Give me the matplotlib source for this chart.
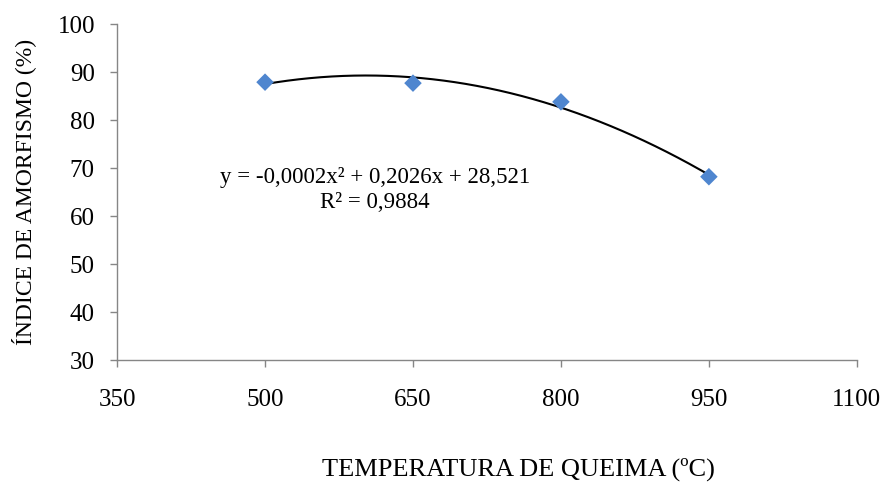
import numpy as np
import matplotlib.pyplot as plt

temperatura = [500, 650, 800, 950]
amorfismo = [87.9, 87.7, 83.8, 68.2]
x_ticks = [350, 500, 650, 800, 950, 1100]
y_ticks = [30, 40, 50, 60, 70, 80, 90, 100]
equacao = "y = -0,0002x\u00b2 + 0,2026x + 28,521"
r2_texto = "R\u00b2 = 0,9884"

plt.rcParams['font.family'] = ['Liberation Serif', 'DejaVu Serif']

fig = plt.figure(figsize=(8.87, 4.82), dpi=100)
ax = fig.add_axes([0.132, 0.253, 0.834, 0.697])

# linha de tendencia polinomial (ordem 2)
coef = np.polyfit(temperatura, amorfismo, 2)
xs = np.linspace(min(temperatura), max(temperatura), 200)
ax.plot(xs, np.polyval(coef, xs), color='black', linewidth=1.5, zorder=2)

ax.scatter(temperatura, amorfismo, marker='D', s=80, color='#4f86cf',
           edgecolors='none', zorder=3)

ax.set_xlim(350, 1100)
ax.set_ylim(30, 100)
ax.set_xticks(x_ticks)
ax.set_yticks(y_ticks)

for s in ['top', 'right']:
    ax.spines[s].set_visible(False)
for s in ['left', 'bottom']:
    ax.spines[s].set_color('#868686')
    ax.spines[s].set_linewidth(1)
ax.tick_params(direction='out', length=5, width=1, color='#868686',
               labelsize=18)
ax.tick_params(axis='y', pad=11)
ax.tick_params(axis='x', pad=16)

ax.set_xlabel('TEMPERATURA DE QUEIMA (ºC)', fontsize=19)
ax.xaxis.set_label_coords((518 - 117) / 740, -0.29)
ax.set_ylabel('ÍNDICE DE AMORFISMO (%)', fontsize=17, labelpad=15)

ax.text(375, 482 - 178, equacao, transform=None, fontsize=16.5,
        ha='center', va='center')
ax.text(375, 482 - 202, r2_texto, transform=None, fontsize=16.5,
        ha='center', va='center')

fig.savefig('out.png', dpi=100)
